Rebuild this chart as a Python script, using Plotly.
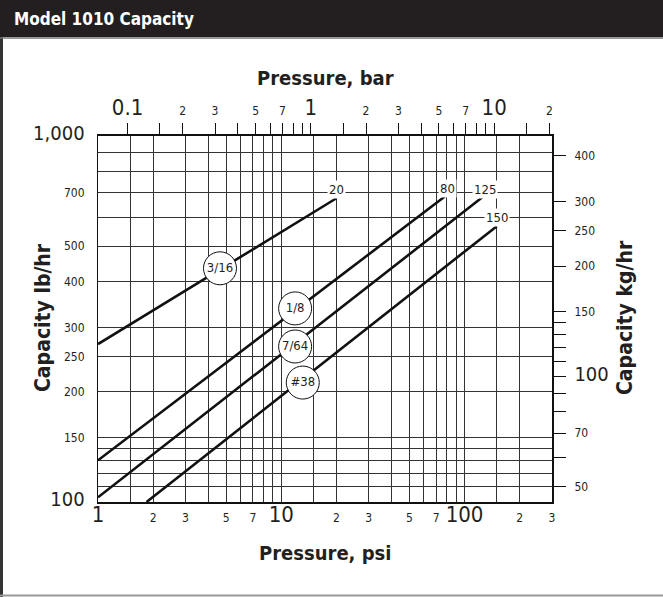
import math
import plotly.graph_objects as go

# ---------------- data ----------------
# orifice lines: (psi, lb/hr) start and end points
line_names = ["3/16", "1/8", "7/64", "#38"]
line_psi = [[1.0, 20.0], [1.0, 80.0], [1.0, 125.0], [1.84, 150.0]]
line_lbhr = [[270.0, 676.0], [130.0, 690.0], [103.0, 680.0], [100.0, 567.0]]

# circled size labels placed on the lines
circle_psi = [4.63, 11.9, 11.9, 13.1]
circle_lbhr = [435.0, 338.0, 266.0, 212.0]

# end-of-line pressure labels
end_labels = ["20", "80", "125", "150"]
end_psi = [20.0, 80.5, 129.0, 150.8]
end_lbhr = [716.0, 719.0, 712.0, 600.0]

# axes
psi_grid = [1.5, 2, 3, 4, 5, 6, 7, 8, 9, 10, 15, 20, 30, 40, 50, 60, 70, 80, 90, 100, 150, 200, 300]
psi_labels = {1: "1", 2: "2", 3: "3", 5: "5", 7: "7", 10: "10", 20: "2", 30: "3", 50: "5", 70: "7", 100: "100", 200: "2", 300: "3"}
psi_big = [1, 10, 100]

bar_ticks = [0.1, 0.15, 0.2, 0.3, 0.4, 0.5, 0.6, 0.7, 0.8, 0.9, 1, 1.5, 2, 3, 4, 5, 6, 7, 8, 9, 10, 15, 20]
bar_labels = {0.1: "0.1", 0.2: "2", 0.3: "3", 0.5: "5", 0.7: "7", 1: "1", 2: "2", 3: "3", 5: "5", 7: "7", 10: "10", 20: "2"}
bar_big = [0.1, 1, 10]

lb_grid = [100, 110, 120, 130, 140, 150, 200, 250, 300, 400, 500, 600, 700, 800, 900, 1000]
lb_labels = {100: "100", 150: "150", 200: "200", 250: "250", 300: "300", 400: "400", 500: "500", 700: "700", 1000: "1,000"}
lb_big = [100, 1000]

kg_ticks = [50, 60, 70, 80, 90, 100, 110, 120, 130, 140, 150, 200, 250, 300, 400]
kg_labels = {50: "50", 70: "70", 100: "100", 150: "150", 200: "200", 250: "250", 300: "300", 400: "400"}
kg_big = [100]

PSI_MIN, PSI_MAX = 1.0, 300.0
LB_MIN, LB_MAX = 100.0, 1000.0
PSI_PER_BAR = 14.504
KG_PER_LB = 0.4536

# ---------------- style ----------------
W, H = 663, 597
ML, MR, MT, MB = 98, 111, 136, 95
PW, PH = W - ML - MR, H - MT - MB
FONT = "Liberation Sans Narrow, DejaVu Sans Condensed, Arial Narrow, sans-serif"
INK = "#231f20"
GRID = "#333333"


def big(t, s=21):
    return '<span style="font-size:%dpx">%s</span>' % (s, t)


def make_text(vals, labels, bigs, s=21):
    out = []
    for v in vals:
        t = labels.get(v, "")
        if t and v in bigs:
            t = big(t, s)
        out.append(t)
    return out


def px_to_paper_x(px):
    return (px - ML) / PW


def px_to_paper_y(py):
    return 1 - (py - MT) / PH


fig = go.Figure()

# orifice lines
for n, xs, ys in zip(line_names, line_psi, line_lbhr):
    fig.add_trace(go.Scatter(x=xs, y=ys, mode="lines", line=dict(color="#111", width=2.6),
                             showlegend=False, hoverinfo="skip"))

# circled labels
fig.add_trace(go.Scatter(x=circle_psi, y=circle_lbhr, mode="markers+text", text=line_names,
                         textposition="middle center",
                         textfont=dict(family=FONT, size=13, color=INK),
                         marker=dict(size=33, color="white", line=dict(color="#111", width=1)),
                         showlegend=False, hoverinfo="skip"))

# dummy traces to activate secondary axes
fig.add_trace(go.Scatter(x=[PSI_MIN / PSI_PER_BAR], y=[LB_MIN], xaxis="x2", yaxis="y",
                         mode="markers", marker=dict(opacity=0), showlegend=False, hoverinfo="skip"))
fig.add_trace(go.Scatter(x=[PSI_MIN], y=[LB_MIN * KG_PER_LB], xaxis="x", yaxis="y2",
                         mode="markers", marker=dict(opacity=0), showlegend=False, hoverinfo="skip"))

# end labels
for t, x, y in zip(end_labels, end_psi, end_lbhr):
    fig.add_annotation(x=math.log10(x), y=math.log10(y), xref="x", yref="y", text=t,
                       showarrow=False, bgcolor="white", borderpad=1,
                       font=dict(family=FONT, size=13, color=INK))

psi_ticks = [1] + psi_grid
fig.update_layout(
    width=W, height=H,
    margin=dict(l=ML, r=MR, t=MT, b=MB, autoexpand=False),
    paper_bgcolor="white", plot_bgcolor="white",
    font=dict(family=FONT, color=INK, size=12),
    xaxis=dict(type="log", range=[math.log10(PSI_MIN), math.log10(PSI_MAX)],
               tickvals=psi_ticks, ticktext=make_text(psi_ticks, psi_labels, psi_big, 22),
               ticks="", showgrid=True, gridcolor=GRID, gridwidth=1,
               showline=True, linecolor="#111", linewidth=2, mirror=False,
               tickfont=dict(size=12, color=INK), ticklabelstandoff=4, zeroline=False),
    xaxis2=dict(type="log", overlaying="x", side="top", anchor="y",
                range=[math.log10(PSI_MIN / PSI_PER_BAR), math.log10(PSI_MAX / PSI_PER_BAR)],
                tickvals=bar_ticks, ticktext=make_text(bar_ticks, bar_labels, bar_big, 22),
                ticks="outside", ticklen=11, tickwidth=1, tickcolor="#111",
                showgrid=False, showline=True, linecolor="#111", linewidth=2,
                tickfont=dict(size=12, color=INK), ticklabelstandoff=3),
    yaxis=dict(type="log", range=[math.log10(LB_MIN), math.log10(LB_MAX)],
               tickvals=lb_grid, ticktext=make_text(lb_grid, lb_labels, lb_big, 20),
               ticks="", showgrid=True, gridcolor=GRID, gridwidth=1,
               showline=True, linecolor="#111", linewidth=1,
               tickfont=dict(size=12, color=INK), ticklabelstandoff=10, zeroline=False),
    yaxis2=dict(type="log", overlaying="y", side="right", anchor="x",
                range=[math.log10(LB_MIN * KG_PER_LB), math.log10(LB_MAX * KG_PER_LB)],
                tickvals=kg_ticks, ticktext=make_text(kg_ticks, kg_labels, kg_big, 20),
                ticks="outside", ticklen=12, tickwidth=1, tickcolor="#111",
                showgrid=False, showline=True, linecolor="#111", linewidth=2,
                tickfont=dict(size=12, color=INK), ticklabelstandoff=6),
)

# header band and frame
fig.add_shape(type="rect", xref="paper", yref="paper",
              x0=px_to_paper_x(0), x1=px_to_paper_x(W), y0=px_to_paper_y(37), y1=px_to_paper_y(0),
              fillcolor="#231f20", line=dict(width=0), layer="above")
fig.add_shape(type="line", xref="paper", yref="paper",
              x0=px_to_paper_x(1.5), x1=px_to_paper_x(1.5), y0=px_to_paper_y(37), y1=px_to_paper_y(H),
              line=dict(color="#333", width=3))
fig.add_shape(type="line", xref="paper", yref="paper",
              x0=px_to_paper_x(0), x1=px_to_paper_x(W), y0=px_to_paper_y(595.5), y1=px_to_paper_y(595.5),
              line=dict(color="#9a9a9a", width=2))
fig.add_shape(type="line", xref="paper", yref="paper",
              x0=px_to_paper_x(0), x1=px_to_paper_x(W), y0=px_to_paper_y(38), y1=px_to_paper_y(38),
              line=dict(color="#777", width=1.5))

fig.add_annotation(xref="paper", yref="paper", x=px_to_paper_x(12), y=px_to_paper_y(19),
                   xanchor="left", yanchor="middle", showarrow=False,
                   text="<b>Model 1010 Capacity</b>", font=dict(family=FONT, size=17, color="white"))

# axis titles
fig.add_annotation(xref="paper", yref="paper", x=0.5, y=px_to_paper_y(78),
                   xanchor="center", yanchor="middle", showarrow=False,
                   text="<b>Pressure, bar</b>", font=dict(family=FONT, size=20, color=INK))
fig.add_annotation(xref="paper", yref="paper", x=0.5, y=px_to_paper_y(553),
                   xanchor="center", yanchor="middle", showarrow=False,
                   text="<b>Pressure, psi</b>", font=dict(family=FONT, size=20, color=INK))
fig.add_annotation(xref="paper", yref="paper", x=px_to_paper_x(43), y=px_to_paper_y(318),
                   xanchor="center", yanchor="middle", showarrow=False, textangle=-90,
                   text="<b>Capacity lb/hr</b>", font=dict(family=FONT, size=21, color=INK))
fig.add_annotation(xref="paper", yref="paper", x=px_to_paper_x(625), y=px_to_paper_y(318),
                   xanchor="center", yanchor="middle", showarrow=False, textangle=-90,
                   text="<b>Capacity kg/hr</b>", font=dict(family=FONT, size=21, color=INK))

fig.write_html("out.html", config={"displayModeBar": False},
               post_script="document.body.style.margin='0';document.body.style.padding='0';")
